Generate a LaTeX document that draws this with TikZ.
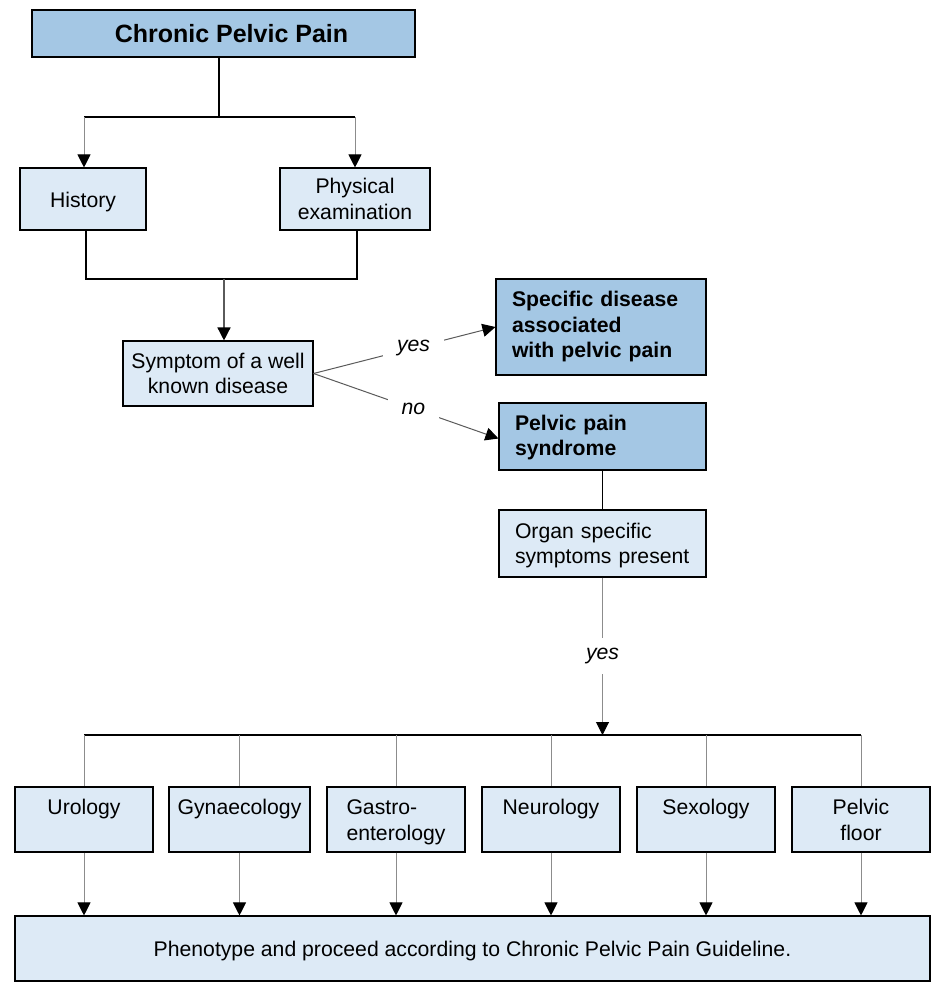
\documentclass[tikz,border=0pt]{standalone}
\usepackage{fontspec}
\setmainfont{Liberation Sans}
\usetikzlibrary{arrows.meta}
\definecolor{dblue}{RGB}{164,199,228}
\definecolor{lblue}{RGB}{221,234,246}
\definecolor{lgray}{RGB}{140,140,140}
\definecolor{mgray}{RGB}{90,90,90}
\newcommand{\topgap}[1]{\rule{0pt}{#1}}
\begin{document}
\begin{tikzpicture}[x=1pt,y=-1pt,
  box/.style={draw=black, line width=1.1pt, fill=lblue, inner sep=0pt,
    font=\fontsize{21.2}{25.5}\selectfont, align=center},
  dbox/.style={box, fill=dblue, font=\fontsize{21.2}{25.5}\selectfont\bfseries},
  tip/.style={-{Triangle[width=13pt,length=13pt,color=black]}},
  conn/.style={draw=black, line width=1.1pt},
  gconn/.style={draw=lgray, line width=1pt},
  dconn/.style={draw=mgray, line width=1pt},
  lbl/.style={fill=white, font=\fontsize{21.2}{25.5}\selectfont\itshape,
    inner xsep=14pt, inner ysep=8pt}
]
\useasboundingbox (0,0) rectangle (947,997);

% nodes
\node[dbox, minimum width=383pt, minimum height=47pt,
  font=\fontsize{25}{30}\selectfont\bfseries] (cpp) at (223.5,33.5) {\hspace*{16pt}Chronic Pelvic Pain};
\node[box, minimum width=126pt, minimum height=62pt] (hist) at (83,199) {\topgap{21.5pt}History};
\node[box, minimum width=150pt, minimum height=62pt] (phys) at (355,199) {Physical\\examination};
\node[box, minimum width=190pt, minimum height=65pt] (sym) at (218,373.5) {Symptom of a well\\known disease};
\node[dbox, minimum width=210pt, minimum height=96pt, text width=178pt, align=left]
  (spec) at (601,327) {Specific disease\\associated\\with pelvic pain};
\node[dbox, minimum width=207pt, minimum height=67pt, text width=175pt, align=left]
  (pps) at (602.5,436.5) {\topgap{17pt}Pelvic pain\\syndrome};
\node[box, minimum width=207pt, minimum height=67pt, text width=175pt, align=left]
  (org) at (602.5,543.5) {\topgap{19.5pt}Organ specific\\symptoms present};

\node[box, minimum width=138pt, minimum height=65pt] (uro) at (84,819.5) {\topgap{23.85pt}Urology\\\strut};
\node[box, minimum width=141pt, minimum height=65pt] (gyn) at (239.5,819.5) {\topgap{23.85pt}Gynaecology\\\strut};
\node[box, minimum width=138pt, minimum height=65pt, align=left] (gas) at (396,819.5) {\topgap{23.85pt}Gastro-\\enterology\strut};
\node[box, minimum width=138pt, minimum height=65pt] (neu) at (551,819.5) {\topgap{23.85pt}Neurology\\\strut};
\node[box, minimum width=138pt, minimum height=65pt] (sex) at (706,819.5) {\topgap{23.85pt}Sexology\\\strut};
\node[box, minimum width=138pt, minimum height=65pt] (pel) at (861,819.5) {\topgap{23.85pt}Pelvic\\floor\strut};
\node[box, minimum width=915pt, minimum height=65pt] (phen) at (472.5,948.5)
  {\topgap{19.5pt}Phenotype and proceed according to Chronic Pelvic Pain Guideline.};

% coordinates
\coordinate (t1) at (219,117);
\coordinate (hl) at (84,117);
\coordinate (hr) at (355,117);
\coordinate (b1) at (86,279);
\coordinate (b2) at (357,279);
\coordinate (b3) at (224,279);
\coordinate (hub) at (602.5,735);
\coordinate (bl) at (84,735);
\coordinate (br) at (861,735);

% top connectors
\draw[conn] (cpp.south -| t1) -- (t1);
\draw[conn] (hl) -- (hr);
\draw[gconn,tip] (hl) -- (hist.north -| hl);
\draw[gconn,tip] (hr) -- (phys.north -| hr);
\draw[conn] (hist.south -| b1) -- (b1) -- (b2) -- (phys.south -| b2);
\draw[dconn,line width=1.4pt,tip] (b3) -- (sym.north -| b3);

% yes / no
\draw[dconn,tip] (sym.east) -- node[lbl,pos=0.55]{yes} (spec.west);
\draw[dconn,tip] (sym.east) -- node[lbl,pos=0.54]{no} ([yshift=-2pt]pps.west);

% lower chain
\draw[conn] (pps.south) -- (org.north);
\draw[gconn,tip] (org.south) -- node[lbl,pos=0.5,inner ysep=10pt]{yes} (hub);
\draw[conn] (bl) -- (br);
\foreach \n in {uro,gyn,gas,neu,sex,pel}{
  \draw[gconn] (\n.north |- bl) -- (\n.north);
  \draw[gconn,tip] (\n.south) -- (\n.south |- phen.north);
}
\end{tikzpicture}
\end{document}
